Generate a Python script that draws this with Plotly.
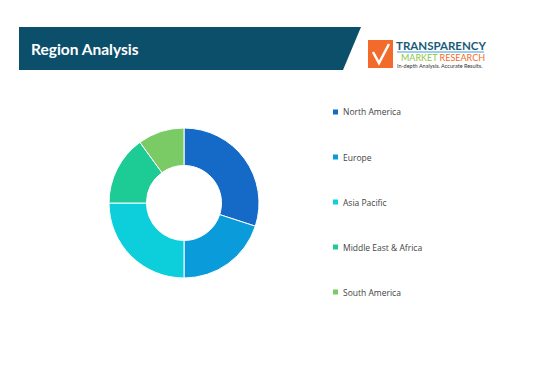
import plotly.graph_objects as go

W, H = 534, 369
OFF = 8  # page body margin offset

regions = ["North America", "Europe", "Asia Pacific", "Middle East & Africa", "South America"]
shares = [30, 20, 25, 15, 10]
colors = ["#1569C7", "#0A9BDB", "#0DCFDC", "#1DCB94", "#7ACB66"]
title_text = "Region Analysis"


def px(x):
    return (x - OFF) / W


def py(y):
    return 1 - (y - OFF) / H


fig = go.Figure()
fig.add_trace(go.Pie(
    labels=regions, values=shares, hole=0.5, sort=False,
    direction="clockwise", rotation=0,
    marker=dict(colors=colors, line=dict(color="white", width=1)),
    textinfo="none", showlegend=False,
    domain=dict(x=[px(109), px(259)], y=[py(278), py(128)]),
))

shapes = []
annotations = []

# header bar
shapes.append(dict(
    type="path", xref="paper", yref="paper",
    path=f"M {px(19)},{py(27)} L {px(361)},{py(27)} L {px(343)},{py(70)} L {px(19)},{py(70)} Z",
    fillcolor="#0C4F6B", line=dict(width=0), layer="below",
))
annotations.append(dict(
    x=px(29), y=py(49), xref="paper", yref="paper", xanchor="left", yanchor="middle",
    text=f"<b>{title_text}</b>", showarrow=False,
    font=dict(family="Lato", size=15.5, color="white"),
))

# logo
shapes.append(dict(type="rect", xref="paper", yref="paper",
                   x0=px(368), x1=px(393), y0=py(68), y1=py(40),
                   fillcolor="#F26B2A", line=dict(width=0)))
shapes.append(dict(type="path", xref="paper", yref="paper",
                   path=f"M {px(373)},{py(52)} L {px(379)},{py(63)} L {px(389)},{py(44)}",
                   line=dict(color="white", width=2.5)))
shapes.append(dict(type="line", xref="paper", yref="paper",
                   x0=px(397), x1=px(484), y0=py(52), y1=py(52),
                   line=dict(color="#3AA0D8", width=1)))
annotations.append(dict(
    x=px(440.5), y=py(45.5), xref="paper", yref="paper", xanchor="center", yanchor="middle",
    text="<b>TRANSPARENCY</b>", showarrow=False,
    font=dict(family="Lato", size=11.5, color="#1B5B7A"),
))
annotations.append(dict(
    x=px(443), y=py(58), xref="paper", yref="paper", xanchor="center", yanchor="middle",
    text="<span style='color:#8DC63F'>MARKET</span> <span style='color:#F26B2A'>RESEARCH</span>",
    showarrow=False, font=dict(family="Lato", size=9),
))
annotations.append(dict(
    x=px(440), y=py(65.5), xref="paper", yref="paper", xanchor="center", yanchor="middle",
    text="In-depth Analysis. Accurate Results.", showarrow=False,
    font=dict(family="Lato", size=5.5, color="#333333"),
))

# legend
row_y = [112, 157, 202, 247, 292]
for name, col, yy in zip(regions, colors, row_y):
    shapes.append(dict(type="rect", xref="paper", yref="paper",
                       x0=px(333), x1=px(338), y0=py(yy + 2.5), y1=py(yy - 2.5),
                       fillcolor=col, line=dict(width=0)))
    annotations.append(dict(
        x=px(341), y=py(yy), xref="paper", yref="paper", xanchor="left", yanchor="middle",
        text=name, showarrow=False,
        font=dict(family="Open Sans", size=8.5, color="#444444"),
    ))

fig.update_layout(
    width=W, height=H, margin=dict(l=0, r=0, t=0, b=0),
    paper_bgcolor="white", plot_bgcolor="white",
    shapes=shapes, annotations=annotations,
)

fig.write_html("out.html")
